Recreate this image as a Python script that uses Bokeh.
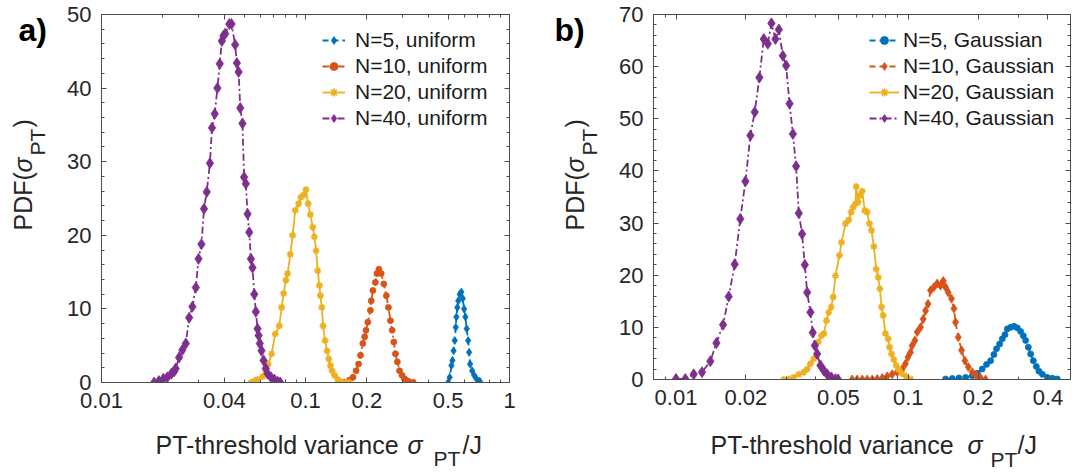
import numpy as np
from bokeh.plotting import figure
from bokeh.models import (Range1d, LogAxis, LinearAxis, FixedTicker, SingleIntervalTicker,
                          Label, Legend, LegendItem, CustomJSTickFormatter)
from bokeh.layouts import row, column
from bokeh.embed import file_html
from bokeh.resources import INLINE

# ---------------- data: panel a (uniform) ----------------
a5_x = [0.500, 0.509, 0.519, 0.525, 0.532, 0.539, 0.545, 0.549, 0.555, 0.561, 0.570, 0.581,
        0.590, 0.599, 0.608, 0.617, 0.627, 0.634, 0.641, 0.656, 0.671, 0.689, 0.715]
a5_y = [0.0, 0.7, 2.3, 3.0, 4.3, 5.7, 7.5, 8.9, 10.2, 11.1, 12.0, 12.3,
        11.4, 10.0, 8.9, 7.3, 5.7, 4.1, 2.5, 1.6, 1.0, 0.5, 0.2]
a10_x = [0.155, 0.164, 0.171, 0.177, 0.182, 0.186, 0.191, 0.195, 0.198, 0.202, 0.208, 0.210,
         0.214, 0.220, 0.224, 0.229, 0.235, 0.242, 0.249, 0.255, 0.261, 0.266, 0.271, 0.276,
         0.282, 0.289, 0.297, 0.306, 0.318, 0.337]
a10_y = [0.05, 0.3, 0.7, 1.6, 2.5, 3.7, 5.3, 6.2, 7.1, 8.2, 9.8, 11.1,
         12.5, 13.6, 14.8, 15.4, 14.8, 13.4, 11.8, 10.2, 8.4, 7.1, 5.5, 3.9,
         2.8, 1.6, 1.0, 0.5, 0.2, 0.04]
a20_x = [0.0540, 0.0561, 0.0582, 0.0616, 0.0639, 0.0656, 0.0682, 0.0711, 0.0744, 0.0764,
         0.0781, 0.0802, 0.0817, 0.0842, 0.0865, 0.0891, 0.0926, 0.0950, 0.0980, 0.1005,
         0.1030, 0.1056, 0.1085, 0.1105, 0.1127, 0.1148, 0.1170, 0.1183, 0.1202, 0.1220,
         0.1247, 0.1276, 0.1300, 0.1325, 0.1350, 0.1387, 0.1440, 0.1490, 0.1580, 0.1640]
a20_y = [0.0, 0.2, 0.4, 0.8, 1.6, 2.5, 3.9, 6.6, 7.7, 10.2,
         12.1, 13.9, 14.8, 17.4, 20.0, 23.4, 24.3, 25.2, 25.5, 26.2,
         24.3, 22.8, 21.1, 19.8, 17.9, 15.2, 13.2, 11.8, 10.2, 7.7,
         5.7, 4.3, 3.2, 2.3, 1.6, 1.0, 0.4, 0.1, 0.0, 0.0]
a40_x = [0.0181, 0.0191, 0.0201, 0.0210, 0.0220, 0.0227, 0.0231, 0.0240, 0.0249, 0.0259,
         0.0269, 0.0279, 0.0290, 0.0299, 0.0309, 0.0318, 0.0328, 0.0340, 0.0348, 0.0359,
         0.0370, 0.0380, 0.0389, 0.0396, 0.0404, 0.0423, 0.0434, 0.0452, 0.0461, 0.0470,
         0.0479, 0.0491, 0.0500, 0.0510, 0.0520, 0.0530, 0.0540, 0.0550, 0.0561, 0.0571,
         0.0582, 0.0589, 0.0597, 0.0609, 0.0623, 0.0639, 0.0652, 0.0677, 0.0703, 0.0730, 0.0752]
a40_y = [0.0, 0.2, 0.5, 0.7, 1.2, 1.5, 1.9, 3.4, 4.4, 5.3,
         8.8, 10.3, 12.9, 16.8, 18.8, 23.6, 25.9, 29.8, 34.6, 36.5,
         40.0, 43.3, 46.4, 47.1, 47.4, 48.7, 48.7, 45.9, 43.4, 42.2,
         37.3, 35.2, 27.9, 27.0, 22.9, 20.4, 16.8, 15.6, 12.0, 9.6,
         7.3, 6.4, 5.3, 4.3, 3.0, 1.9, 1.2, 0.7, 0.4, 0.1, 0.0]

# ---------------- data: panel b (Gaussian) ----------------
b5_x = [0.1449, 0.1549, 0.1655, 0.1767, 0.1888, 0.1983, 0.2083, 0.2175, 0.2264, 0.2340,
        0.2402, 0.2476, 0.2542, 0.2610, 0.2671, 0.2762, 0.2857, 0.2952, 0.3051, 0.3131,
        0.3205, 0.3290, 0.3367, 0.3458, 0.3563, 0.3655, 0.3784, 0.3974, 0.4178, 0.4386]
b5_y = [0.1, 0.2, 0.3, 0.4, 0.7, 1.2, 2.0, 2.9, 3.6, 4.8,
        5.9, 6.8, 7.8, 8.6, 9.7, 10.0, 10.2, 9.9, 9.2, 8.4,
        7.5, 6.2, 4.9, 3.6, 2.5, 1.6, 1.0, 0.4, 0.25, 0.1]
b10_x = [0.05736, 0.06027, 0.0634, 0.06661, 0.0700, 0.0735, 0.0773, 0.0812, 0.0853, 0.0897,
         0.0942, 0.0973, 0.0998, 0.1023, 0.1040, 0.1069, 0.1094, 0.1130, 0.1161, 0.1188,
         0.1217, 0.1248, 0.1290, 0.1333, 0.1378, 0.1416, 0.1449, 0.1487, 0.1537, 0.1574,
         0.1600, 0.1643, 0.1698, 0.1755, 0.1815, 0.1888, 0.1963, 0.2050, 0.2153]
b10_y = [0.0, 0.0, 0.0, 0.0, 0.0, 0.1, 0.3, 0.6, 1.0, 1.4,
         2.0, 3.0, 4.3, 5.2, 6.5, 7.5, 9.1, 10.0, 11.6, 13.2,
         14.5, 17.1, 17.7, 18.4, 18.0, 18.9, 17.7, 16.7, 15.5, 13.6,
         11.0, 8.1, 5.6, 3.6, 2.4, 1.4, 0.8, 0.3, 0.0]
b20_x = [0.02912, 0.03060, 0.03215, 0.03380, 0.03551, 0.03672, 0.03793, 0.03923, 0.04096, 0.04230,
         0.04335, 0.04446, 0.04550, 0.04656, 0.04753, 0.04862, 0.05058, 0.05163, 0.05373, 0.05550,
         0.05678, 0.05792, 0.05929, 0.05970, 0.06085, 0.06194, 0.06339, 0.06503, 0.06653, 0.06808,
         0.06950, 0.07112, 0.07278, 0.07430, 0.07551, 0.07674, 0.07801, 0.07982, 0.08195, 0.08317,
         0.08472, 0.08670, 0.08872, 0.09116, 0.09419, 0.09800, 0.1023]
b20_y = [0.0, 0.1, 0.4, 1.0, 1.4, 2.0, 3.0, 4.0, 7.2, 8.4,
         8.8, 11.3, 12.9, 13.9, 15.8, 19.9, 23.8, 26.3, 29.9, 30.6,
         32.1, 33.0, 33.7, 37.0, 34.0, 35.3, 36.1, 32.4, 32.1, 29.9,
         28.6, 25.5, 21.2, 19.6, 17.4, 13.9, 12.3, 8.8, 7.8, 6.2,
         4.9, 3.8, 2.7, 1.9, 1.1, 0.6, 0.1]
b40_x = [0.01000, 0.01097, 0.01192, 0.01294, 0.01406, 0.01493, 0.01595, 0.01687, 0.01790, 0.01892,
         0.01990, 0.02091, 0.02183, 0.02286, 0.02388, 0.02485, 0.02576, 0.02680, 0.02772, 0.02884,
         0.02980, 0.03083, 0.03187, 0.03290, 0.03380, 0.03491, 0.03587, 0.03672, 0.03793, 0.03881,
         0.03963, 0.04055, 0.04188, 0.04335, 0.04477, 0.04670, 0.04862, 0.04990]
b40_y = [0.1, 0.1, 1.0, 1.4, 3.5, 7.0, 10.5, 15.9, 22.1, 30.8,
         38.0, 46.8, 51.3, 57.9, 65.3, 64.4, 68.3, 65.3, 67.1, 62.1,
         60.2, 52.9, 47.1, 40.9, 31.9, 27.9, 22.0, 16.7, 12.9, 9.0,
         6.5, 4.9, 2.7, 1.7, 1.0, 0.4, 0.06, 0.0]

labels_a = ["N=5, uniform", "N=10, uniform", "N=20, uniform", "N=40, uniform"]
labels_b = ["N=5, Gaussian", "N=10, Gaussian", "N=20, Gaussian", "N=40, Gaussian"]

xticks_a = [0.01, 0.04, 0.1, 0.2, 0.5, 1]
xminor_a = [0.02, 0.03, 0.05, 0.06, 0.07, 0.08, 0.09, 0.3, 0.4, 0.6, 0.7, 0.8, 0.9]
xticks_b = [0.01, 0.02, 0.05, 0.1, 0.2, 0.4]
xminor_b = [0.008, 0.009, 0.03, 0.04, 0.06, 0.07, 0.08, 0.09, 0.3, 0.5]

# ---------------- style ----------------
BLUE, ORANGE, YELLOW, PURPLE = "#0072BD", "#D95319", "#EDB120", "#7E2F8E"
FONT = "Liberation Sans"
TXT = "#262626"
AXC = "#4d4d4d"
DASH = "6 4"
DASHDOT = "7 3 2 3"
TOP_H = 420      # height of the row holding the axes boxes
BOT_H = 53       # height of the strip holding the x-axis titles


def no_align(f):
    try:
        f.frame_align = False
    except Exception:
        pass


def style_axis(ax, ticker, show_labels):
    ax.ticker = ticker
    ax.axis_line_color = AXC
    ax.axis_line_width = 1
    ax.major_tick_line_color = AXC
    ax.minor_tick_line_color = AXC
    ax.major_tick_in = 5
    ax.major_tick_out = 0
    ax.minor_tick_in = 3
    ax.minor_tick_out = 0
    if show_labels:
        ax.major_label_text_font = FONT
        ax.major_label_text_font_size = "22px"
        ax.major_label_text_color = TXT
        ax.major_label_standoff = 10
    else:
        ax.formatter = CustomJSTickFormatter(code="return ''")
        ax.major_label_standoff = 0


def make_panel(xr, yr, fw, fh, bl, br, bb, xt, xm):
    p = figure(x_axis_type="log", x_range=Range1d(*xr), y_range=Range1d(*yr),
               frame_width=fw, frame_height=fh, min_border_left=bl, min_border_right=br,
               min_border_top=14, min_border_bottom=bb, output_backend="svg",
               toolbar_location=None, background_fill_color="white",
               border_fill_color="white")
    no_align(p)
    p.outline_line_color = None
    p.xgrid.visible = False
    p.ygrid.visible = False
    style_axis(p.xaxis[0], FixedTicker(ticks=xt, minor_ticks=xm), True)
    p.xaxis[0].formatter = CustomJSTickFormatter(code="return tick.toString()")
    style_axis(p.yaxis[0], SingleIntervalTicker(interval=10, num_minor_ticks=5), True)
    top = LogAxis()
    style_axis(top, FixedTicker(ticks=xt, minor_ticks=xm), False)
    right = LinearAxis()
    style_axis(right, SingleIntervalTicker(interval=10, num_minor_ticks=5), False)
    p.add_layout(top, "above")
    p.add_layout(right, "right")
    return p


def text_fig(w, h):
    f = figure(width=w, height=h, x_range=Range1d(0, 1), y_range=Range1d(0, 1),
               min_border=0, toolbar_location=None, output_backend="svg",
               x_axis_location=None, y_axis_location=None,
               background_fill_color="white", border_fill_color="white")
    no_align(f)
    f.outline_line_color = None
    f.grid.visible = False
    return f


def add_series(p, x, y, color, dash, marker, size, lw=1.8):
    r1 = p.line(x, y, line_color=color, line_width=lw, line_dash=dash)
    if marker == "asterisk":
        r2 = p.scatter(x, y, marker="asterisk", size=size, line_color=color, line_width=1.7)
    else:
        r2 = p.scatter(x, y, marker=marker, size=size,
                       fill_color=color, line_color=color, line_width=0.8)
    return [r1, r2]


def add_text(f, x, y, text, size, angle=0.0, style="normal", color=TXT):
    f.add_layout(Label(x=x, y=y, x_units="screen", y_units="screen", text=text,
                       text_font=FONT, text_font_size=size, text_font_style=style,
                       text_color=color, angle=angle, text_align="left",
                       text_baseline="alphabetic"))


def add_legend(p, items, loc, gw, standoff):
    leg = Legend(items=items, location=loc, padding=0, margin=0, spacing=0,
                 label_height=26, glyph_height=20, glyph_width=gw, label_standoff=standoff,
                 label_text_font=FONT, label_text_font_size="21px", label_text_color="#1a1a1a",
                 border_line_color=None, background_fill_alpha=0)
    p.add_layout(leg)


H = np.pi / 2

# ---------------- panel a ----------------
pa = make_panel((0.01, 1.0), (0, 50), 408, 368, 46, 31, 38, xticks_a, xminor_a)
ra = [
    add_series(pa, a5_x, a5_y, BLUE, DASH, "diamond", 8),
    add_series(pa, a10_x, a10_y, ORANGE, DASHDOT, "circle", 6),
    add_series(pa, a20_x, a20_y, YELLOW, "solid", "asterisk", 7),
    add_series(pa, a40_x, a40_y, PURPLE, DASHDOT, "diamond", 11),
]
add_legend(pa, [LegendItem(label=l, renderers=r) for l, r in zip(labels_a, ra)], (221, 251), 23, 10)

# ---------------- panel b ----------------
pb = make_panel((0.008, 0.5), (0, 70), 417, 365, 53, 14, 41, xticks_b, xminor_b)
rb = [
    add_series(pb, b5_x, b5_y, BLUE, DASH, "circle", 6),
    add_series(pb, b10_x, b10_y, ORANGE, DASH, "diamond", 9),
    add_series(pb, b20_x, b20_y, YELLOW, "solid", "asterisk", 7),
    add_series(pb, b40_x, b40_y, PURPLE, DASHDOT, "diamond", 11),
]
add_legend(pb, [LegendItem(label=l, renderers=r) for l, r in zip(labels_b, rb)], (216, 248), 30, 4)

# ---------------- text strips (y-axis titles, panel letters, x-axis titles) ----------------
la = text_fig(55, TOP_H)
add_text(la, 22, 190, "PDF(", "25px", angle=H)
add_text(la, 22, 248, "σ", "25px", angle=H, style="italic")
add_text(la, 37, 265, "PT", "21px", angle=H)
add_text(la, 22, 293, ")", "25px", angle=H)
add_text(la, 18, 391, "a)", "32px", style="bold", color="black")

lb = text_fig(60, TOP_H)
add_text(lb, 34, 190, "PDF(", "25px", angle=H)
add_text(lb, 34, 248, "σ", "25px", angle=H, style="italic")
add_text(lb, 49, 265, "PT", "21px", angle=H)
add_text(lb, 34, 293, ")", "25px", angle=H)
add_text(lb, 14, 391, "b)", "32px", style="bold", color="black")

xa = text_fig(540, BOT_H)
add_text(xa, 155, 29, "PT-threshold variance", "25px")
add_text(xa, 407, 29, "σ", "25px", style="italic")
add_text(xa, 433, 15, "PT", "21px")
add_text(xa, 462, 29, "/J", "25px")

xb = text_fig(544, BOT_H)
add_text(xb, 170, 29, "PT-threshold variance", "25px")
add_text(xb, 427, 29, "σ", "25px", style="italic")
add_text(xb, 450, 14, "PT", "21px")
add_text(xb, 477, 29, "/J", "25px")

layout = column(row(la, pa, lb, pb, spacing=0), row(xa, xb, spacing=0), spacing=0)
open("out.html", "w").write(file_html(layout, INLINE))
